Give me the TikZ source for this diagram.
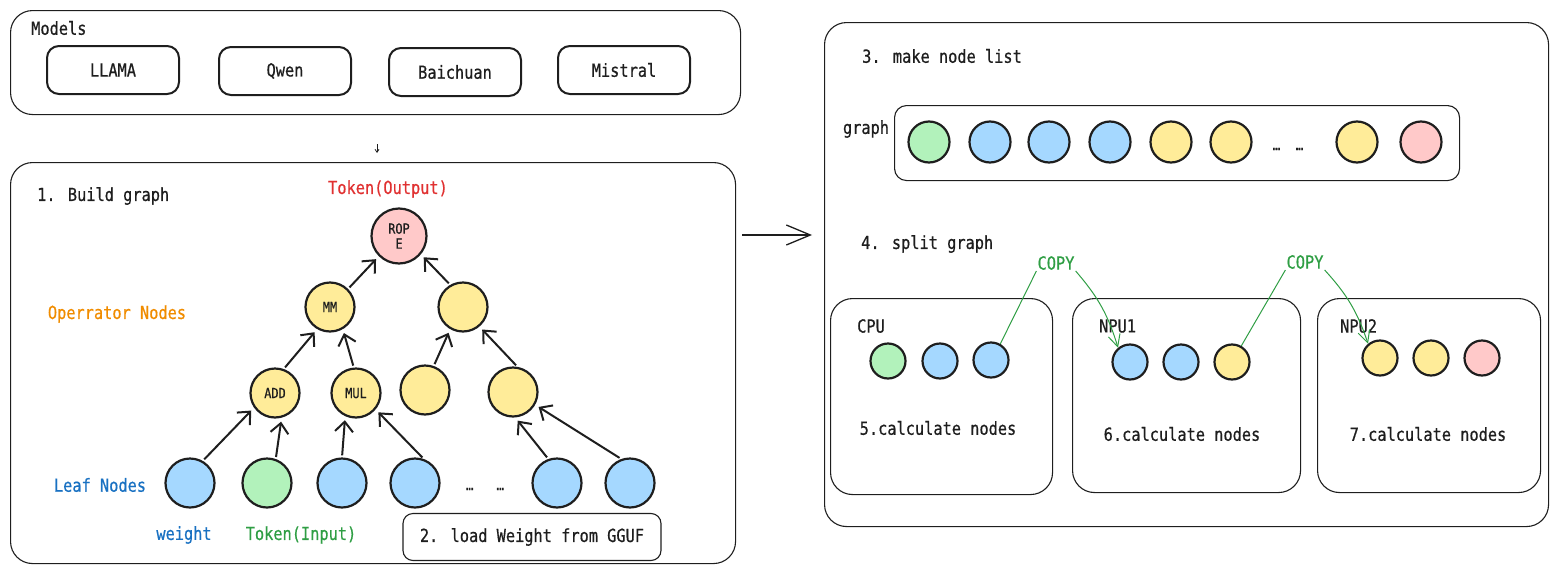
\documentclass[tikz,border=0pt]{standalone}
\usepackage{fontspec}
\newfontfamily\xfont{DejaVu Sans Mono}[FakeStretch=0.85,FakeBold=0.6]
\usetikzlibrary{arrows.meta}
\definecolor{ink}{HTML}{1E1E1E}
\definecolor{cblue}{HTML}{A5D8FF}
\definecolor{cgreen}{HTML}{B2F2BB}
\definecolor{cyel}{HTML}{FFEC99}
\definecolor{cred}{HTML}{FFC9C9}
\definecolor{tred}{HTML}{E03131}
\definecolor{torange}{HTML}{F08C00}
\definecolor{tblue}{HTML}{1971C2}
\definecolor{tgreen}{HTML}{2F9E44}
\tikzset{
  txt/.style={font=\xfont\fontsize{18}{20}\selectfont, text=ink, inner sep=1pt},
  small/.style={font=\xfont\fontsize{14}{15}\selectfont, text=ink, align=center, inner sep=0pt},
  outer/.style={draw=ink, line width=1.1pt, rounded corners=22pt, anchor=north west, inner sep=0pt},
  dev/.style={draw=ink, line width=1.1pt, rounded corners=22pt, anchor=north west, inner sep=0pt},
  model/.style={txt, draw=ink, line width=2pt, rounded corners=12pt, minimum width=132pt, minimum height=48pt},
  ball/.style={circle, draw=ink, line width=2.2pt, inner sep=0pt},
  big/.style={ball, minimum size=49pt},
  mid/.style={ball, minimum size=41pt},
  tiny/.style={ball, minimum size=35pt},
  tarr/.style={draw=ink, line width=2pt, -{Straight Barb[length=10pt,width=18pt,line width=2pt]}, shorten <=2pt, shorten >=4pt},
  copyl/.style={draw=tgreen, line width=1pt},
  copytip/.style={-{Straight Barb[length=12pt,width=12pt,line width=1pt]}},
}
\begin{document}
\begin{tikzpicture}[x=1pt,y=-1pt]
\useasboundingbox (0,0) rectangle (1558,573);

% ---------- Models ----------
\node[outer, minimum width=730pt, minimum height=104pt] (models) at (10,10) {};
\node[txt, anchor=west] (tmodels) at (30,28) {Models};
\node[model] (llama) at (113,70) {LLAMA};
\node[model] (qwen) at (285,71) {Qwen};
\node[model] (baichuan) at (455,72) {Baichuan};
\node[model] (mistral) at (624,70) {Mistral};

\coordinate (sa1) at (377,144);
\coordinate (sa2) at (377,153);
\draw[ink, line width=0.8pt, -{Straight Barb[length=3pt,width=4pt]}] (sa1) -- (sa2);

% ---------- Build graph ----------
\node[outer, minimum width=725pt, minimum height=401pt] (build) at (10,162) {};
\node[txt, anchor=west] (tbuild) at (36,196) {1. Build graph};
\node[txt, text=tred] (tout) at (388,189) {Token(Output)};
\node[txt, text=torange] (topn) at (117,314) {Operrator Nodes};
\node[txt, text=tblue] (tleaf) at (100,485) {Leaf Nodes};
\node[txt, text=tblue] (tweight) at (184,535) {weight};
\node[txt, text=tgreen] (tinput) at (301,535) {Token(Input)};
\node[txt, draw=ink, line width=1.1pt, rounded corners=10pt, minimum width=258pt, minimum height=47pt] (load) at (532,537) {2. load Weight from GGUF};

\node[ball, minimum size=55pt, fill=cred, small] (rope) at (399,236) {ROP\\E};
\node[ball, minimum size=49pt, fill=cyel, small] (mm) at (330,307) {MM};
\node[ball, minimum size=49pt, fill=cyel] (rop2) at (463,307) {};
\node[ball, minimum size=49pt, fill=cyel, small] (add) at (275,393) {ADD};
\node[ball, minimum size=49pt, fill=cyel, small] (mul) at (356,393) {MUL};
\node[ball, minimum size=49pt, fill=cyel] (y3) at (425,390) {};
\node[ball, minimum size=49pt, fill=cyel] (y4) at (513,392) {};

\node[big, fill=cblue] (l1) at (190,483) {};
\node[big, fill=cgreen] (l2) at (267,483) {};
\node[big, fill=cblue] (l3) at (342,483) {};
\node[big, fill=cblue] (l4) at (415,483) {};
\node[txt, font=\xfont\fontsize{15}{16}\selectfont] (ldots) at (485,489) {…\ \ \ …};
\node[big, fill=cblue] (l5) at (557,483) {};
\node[big, fill=cblue] (l6) at (630,483) {};

\draw[tarr] (mm.45) -- (rope.225);
\draw[tarr] (rop2.120) -- (rope.-40);
\draw[tarr] (add.70) -- (mm.240);
\draw[tarr] (mul.95) -- (mm.-60);
\draw[tarr] (y3.70) -- (rop2.-120);
\draw[tarr] (y4.80) -- (rop2.-50);
\draw[tarr] (l1.60) -- (add.215);
\draw[tarr] (l2.70) -- (add.-75);
\draw[tarr] (l3.90) -- (mul.-115);
\draw[tarr] (l4.70) -- (mul.-40);
\draw[tarr] (l5.110) -- (y4.-85);
\draw[tarr] (l6.110) -- (y4.-30);

% ---------- big arrow ----------
\coordinate (ba1) at (742,235);
\coordinate (ba2) at (812,235);
\draw[ink, line width=1.3pt, -{Straight Barb[length=24pt,width=20pt,line width=1.3pt]}] (ba1) -- (ba2);

% ---------- Right box ----------
\node[outer, minimum width=724pt, minimum height=504pt] (rbox) at (824,22) {};
\node[txt, anchor=west] (tlist) at (861,56) {3. make node list};
\node[draw=ink, line width=1.1pt, rounded corners=12pt, anchor=north west, minimum width=565pt, minimum height=75pt, inner sep=0pt] (gbox) at (894,105) {};
\node[txt] (tgraph) at (866,129) {graph};
\node[mid, fill=cgreen] (g1) at (929,142) {};
\node[mid, fill=cblue] (g2) at (990,142) {};
\node[mid, fill=cblue] (g3) at (1049,142) {};
\node[mid, fill=cblue] (g4) at (1110,142) {};
\node[mid, fill=cyel] (g5) at (1171,142) {};
\node[mid, fill=cyel] (g6) at (1231,142) {};
\node[txt, font=\xfont\fontsize{15}{16}\selectfont] (gdots) at (1288,149) {…\ \ …};
\node[mid, fill=cyel] (g7) at (1357,142) {};
\node[mid, fill=cred] (g8) at (1421,142) {};

\node[txt, anchor=west] (tsplit) at (860,244) {4. split graph};

\node[dev, minimum width=222pt, minimum height=196pt] (cpu) at (830,298) {};
\node[dev, minimum width=228pt, minimum height=194pt] (npu1) at (1072,298) {};
\node[dev, minimum width=223pt, minimum height=194pt] (npu2) at (1317,298) {};
\node[txt, anchor=west] (tcpu) at (856,326) {CPU};
\node[txt, anchor=west] (tnpu1) at (1098,326) {NPU1};
\node[txt, anchor=west] (tnpu2) at (1339,326) {NPU2};

\node[tiny, fill=cgreen] (c1) at (888,361) {};
\node[tiny, fill=cblue] (c2) at (940,361) {};
\node[tiny, fill=cblue] (c3) at (991,360) {};
\node[tiny, fill=cblue] (n1) at (1130,362) {};
\node[tiny, fill=cblue] (n2) at (1181,362) {};
\node[tiny, fill=cyel] (n3) at (1232,362) {};
\node[tiny, fill=cyel] (m1) at (1380,358) {};
\node[tiny, fill=cyel] (m2) at (1431,358) {};
\node[tiny, fill=cred] (m3) at (1482,358) {};

\node[txt] (tcalc5) at (938,428) {5.calculate nodes};
\node[txt] (tcalc6) at (1182,434) {6.calculate nodes};
\node[txt] (tcalc7) at (1428,434) {7.calculate nodes};

\node[txt, text=tgreen] (copy1) at (1056,263) {COPY};
\node[txt, text=tgreen] (copy2) at (1305,262) {COPY};
\draw[copyl] (c3.60) -- (copy1.south west);
\draw[copyl, copytip] (copy1.south east) to[bend left=12] (n1.130);
\draw[copyl] (n3.60) -- (copy2.south west);
\draw[copyl, copytip] (copy2.south east) to[bend left=12] (m1.130);
\end{tikzpicture}
\end{document}
